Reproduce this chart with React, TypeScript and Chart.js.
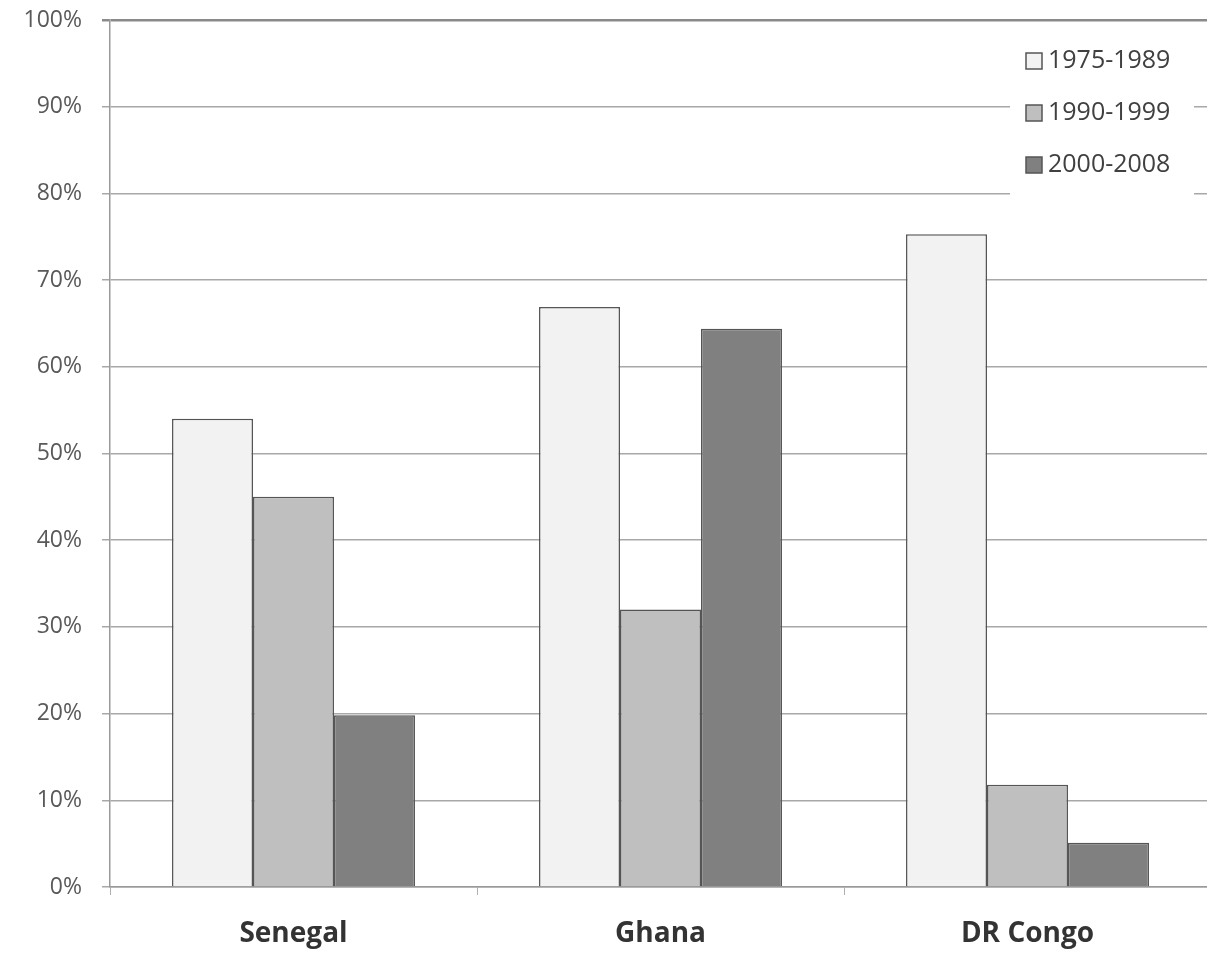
import React, { useEffect, useRef } from "react";
import { Chart, registerables } from "chart.js";

Chart.register(...registerables);

const categories = ["Senegal", "Ghana", "DR Congo"];
const seriesLabels = ["1975-1989", "1990-1999", "2000-2008"];
const series1975 = [54, 66.9, 75.3];
const series1990 = [45, 32, 11.8];
const series2000 = [19.8, 64.4, 5.1];
const seriesColors = ["#f2f2f2", "#bfbfbf", "#808080"];
const yTicks = [0, 10, 20, 30, 40, 50, 60, 70, 80, 90, 100];

const FONT = "'Open Sans', Lato, sans-serif";

const legendPlugin = {
  id: "boxLegend",
  afterDraw(chart: any) {
    const ctx = chart.ctx;
    const area = chart.chartArea;
    const x0 = area.left + 900;
    const y0 = area.top + 6;
    ctx.save();
    ctx.fillStyle = "#ffffff";
    ctx.fillRect(x0, y0, 184, 180);
    chart.data.datasets.forEach((ds: any, i: number) => {
      const cy = y0 + 35 + i * 52;
      ctx.fillStyle = ds.backgroundColor;
      ctx.fillRect(x0 + 16, cy - 8, 16, 16);
      ctx.strokeStyle = "#555555";
      ctx.lineWidth = 1.5;
      ctx.strokeRect(x0 + 16, cy - 8, 16, 16);
      ctx.fillStyle = "#404040";
      ctx.font = `25px ${FONT}`;
      ctx.textBaseline = "middle";
      ctx.textAlign = "left";
      ctx.fillText(ds.label, x0 + 38, cy);
    });
    ctx.restore();
  },
};

export default function App() {
  const ref = useRef<HTMLCanvasElement | null>(null);
  useEffect(() => {
    if (!ref.current) return;
    const values = [series1975, series1990, series2000];
    const chart = new Chart(ref.current, {
      type: "bar",
      data: {
        labels: categories,
        datasets: seriesLabels.map((label, i) => ({
          label,
          data: values[i],
          backgroundColor: seriesColors[i],
          borderColor: "#555555",
          borderWidth: 1.5,
          categoryPercentage: 0.662,
          barPercentage: 1,
        })),
      },
      options: {
        animation: false,
        responsive: false,
        maintainAspectRatio: false,
        layout: { padding: { top: 20, right: 4, left: 0, bottom: 0 } },
        plugins: {
          legend: { display: false },
          tooltip: { enabled: false },
        },
        scales: {
          x: {
            afterFit: (s: any) => {
              s.height = 66;
              s.paddingLeft = 0;
              s.paddingRight = 0;
            },
            grid: {
              drawOnChartArea: false,
              drawTicks: true,
              tickLength: 8,
              offset: true,
              color: "#b0b0b0",
            },
            border: { color: "#999999", width: 1.5 },
            ticks: {
              color: "#333333",
              padding: 22,
              font: { family: FONT, size: 28, weight: "bold" },
            },
          },
          y: {
            min: 0,
            max: 100,
            afterFit: (s: any) => {
              s.width = 110;
              s.paddingTop = 0;
              s.paddingBottom = 0;
            },
            afterBuildTicks: (s: any) => {
              s.ticks = yTicks.map((v) => ({ value: v }));
            },
            grid: {
              drawTicks: true,
              tickLength: 8,
              color: (c: any) => (c.tick && c.tick.value === 100 ? "#8a8a8a" : "#a8a8a8"),
              lineWidth: (c: any) => (c.tick && c.tick.value === 100 ? 2.5 : 1.5),
            },
            border: { color: "#999999", width: 1.5 },
            ticks: {
              color: "#595959",
              padding: 20,
              font: { family: FONT, size: 23 },
              callback: (v: any) => `${v}%`,
            },
          },
        },
      },
      plugins: [legendPlugin],
    });
    return () => chart.destroy();
  }, []);
  return (
    <div
      style={{
        position: "fixed",
        left: 0,
        top: 0,
        width: 1207,
        height: 953,
        overflow: "hidden",
        background: "#ffffff",
      }}
    >
      <canvas ref={ref} width={1215} height={953} style={{ width: 1215, height: 953, display: "block" }} />
    </div>
  );
}
